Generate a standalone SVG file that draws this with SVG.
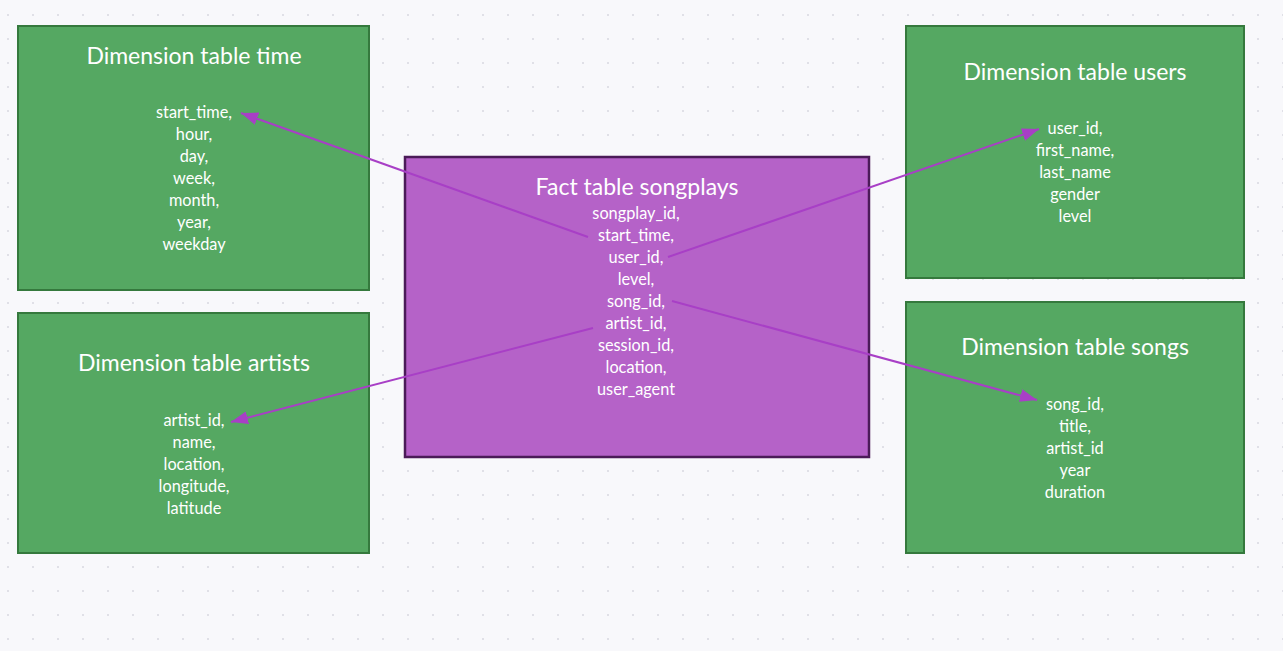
<svg xmlns="http://www.w3.org/2000/svg" width="1283" height="651" viewBox="0 0 1283 651">
<style>
.dim{fill:#55a862;stroke:#35793d;stroke-width:2}
.fact{fill:#b562c8;stroke:#4b1b58;stroke-width:2.5}
text{font-family:Lato,"Open Sans","Liberation Sans",sans-serif;fill:#ffffff;text-anchor:middle}
.t{font-size:23px}
.b{font-size:16.3px}
.c{stroke:#a83fc6;stroke-width:2;fill:none;marker-end:url(#ah)}
</style>
<defs>
<pattern id="dots" x="7" y="14" width="25" height="24" patternUnits="userSpaceOnUse">
<circle cx="1" cy="1" r="1" fill="#d9d9e0"/>
</pattern>
<marker id="ah" viewBox="0 0 17 13" refX="17" refY="6.5" markerWidth="17" markerHeight="13" markerUnits="userSpaceOnUse" orient="auto">
<path d="M0,0 L17,6.5 L0,13 Z" fill="#a83fc6"/>
</marker>
</defs>
<rect width="1283" height="651" fill="#f8f8fb"/>
<rect width="1283" height="651" fill="url(#dots)"/>
<g id="time">
<rect class="dim" x="18" y="26" width="351" height="264"/>
<text class="t" x="194" y="64">Dimension table time</text>
<text class="b" x="194" y="118">start_time,</text>
<text class="b" x="194" y="140">hour,</text>
<text class="b" x="194" y="162">day,</text>
<text class="b" x="194" y="184">week,</text>
<text class="b" x="194" y="206">month,</text>
<text class="b" x="194" y="228">year,</text>
<text class="b" x="194" y="250">weekday</text>
</g>
<g id="artists">
<rect class="dim" x="18" y="313" width="351" height="240"/>
<text class="t" x="194" y="371">Dimension table artists</text>
<text class="b" x="194" y="426">artist_id,</text>
<text class="b" x="194" y="448">name,</text>
<text class="b" x="194" y="470">location,</text>
<text class="b" x="194" y="492">longitude,</text>
<text class="b" x="194" y="514">latitude</text>
</g>
<g id="songplays">
<rect class="fact" x="405" y="157" width="464" height="300"/>
<text class="t" x="637" y="195">Fact table songplays</text>
<text class="b" x="636" y="219">songplay_id,</text>
<text class="b" x="636" y="241">start_time,</text>
<text class="b" x="636" y="263">user_id,</text>
<text class="b" x="636" y="285">level,</text>
<text class="b" x="636" y="307">song_id,</text>
<text class="b" x="636" y="329">artist_id,</text>
<text class="b" x="636" y="351">session_id,</text>
<text class="b" x="636" y="373">location,</text>
<text class="b" x="636" y="395">user_agent</text>
</g>
<g id="users">
<rect class="dim" x="906" y="26" width="338" height="252"/>
<text class="t" x="1075" y="80">Dimension table users</text>
<text class="b" x="1075" y="134">user_id,</text>
<text class="b" x="1075" y="156">first_name,</text>
<text class="b" x="1075" y="178">last_name</text>
<text class="b" x="1075" y="200">gender</text>
<text class="b" x="1075" y="222">level</text>
</g>
<g id="songs">
<rect class="dim" x="906" y="302" width="338" height="251"/>
<text class="t" x="1075" y="355">Dimension table songs</text>
<text class="b" x="1075" y="410">song_id,</text>
<text class="b" x="1075" y="432">title,</text>
<text class="b" x="1075" y="454">artist_id</text>
<text class="b" x="1075" y="476">year</text>
<text class="b" x="1075" y="498">duration</text>
</g>
<g id="connectors">
<line class="c" x1="588" y1="237" x2="241" y2="113"/>
<line class="c" x1="668" y1="257" x2="1039" y2="129"/>
<line class="c" x1="672" y1="301" x2="1037" y2="400"/>
<line class="c" x1="593" y1="328" x2="231" y2="422"/>
</g>
</svg>
